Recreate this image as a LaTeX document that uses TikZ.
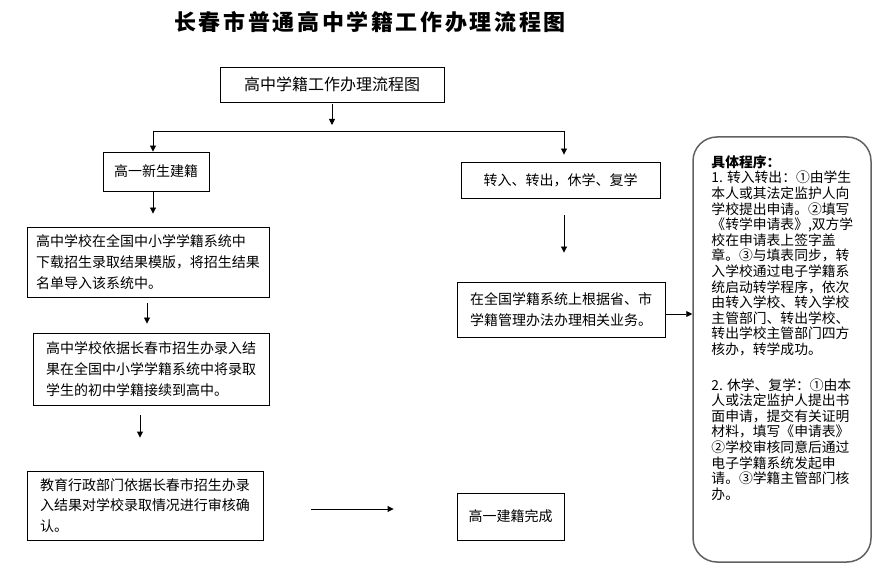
\documentclass[tikz,border=0pt]{standalone}
\usepackage{fontspec}
\setmainfont{Noto Sans CJK SC}
\usepackage{xcolor}
\usetikzlibrary{arrows.meta}

\tikzset{
  stepbox/.style={draw, line width=0.9pt, inner sep=0pt, align=left, font=\fontsize{14}{20.7}\selectfont},
  flowarrow/.style={-{Triangle[length=6pt,width=6pt]}, line width=0.9pt},
  notebox/.style={draw=black!62, line width=1.5pt, rounded corners=24pt, minimum width=178pt, minimum height=425pt},
  notetext/.style={inner sep=0pt, align=left, anchor=north west, font=\fontsize{13.8}{15.6}\selectfont},
}

\begin{document}
\begin{tikzpicture}[x=1pt, y=-1pt]
    \useasboundingbox (0,0) rectangle (884,585);

    \node[font=\fontsize{22}{24}\selectfont\bfseries\addfontfeature{LetterSpace=12}] (title) at (370,22) {长春市普通高中学籍工作办理流程图};

    \node[stepbox, minimum width=224pt, minimum height=35pt, font=\fontsize{16}{18}\selectfont] (top) at (332,84.5) {高中学籍工作办理流程图};
    \node[stepbox, minimum width=106pt, minimum height=39pt] (newreg) at (156,171.5) {高一新生建籍};
    \node[stepbox, minimum width=199pt, minimum height=36pt] (transfer) at (560.5,180) {转入、转出，休学、复学};

    \node[stepbox, minimum width=242pt, minimum height=70pt] (load) at (148,262) {高中学校在全国中小学学籍系统中\\下载招生录取结果模版，将招生结果\\名单导入该系统中。};
    \node[stepbox, minimum width=236pt, minimum height=72pt] (link) at (151,369) {高中学校依据长春市招生办录入结\\果在全国中小学学籍系统中将录取\\学生的初中学籍接续到高中。};
    \node[stepbox, minimum width=236pt, minimum height=69pt] (audit) at (145,505.5) {教育行政部门依据长春市招生办录\\入结果对学校录取情况进行审核确\\认。};
    \node[stepbox, minimum width=107pt, minimum height=47pt] (done) at (510.5,516.5) {高一建籍完成};

    \node[stepbox, minimum width=208pt, minimum height=55pt] (handle) at (561,309.5) {在全国学籍系统上根据省、市\\学籍管理办法办理相关业务。};

    % right side: the steps in detail
    \node[notebox] (steps) at (782,349.5) {};
    \node[notetext] (stepstext) at ([xshift=19pt,yshift=-19pt]steps.north west) {{\bfseries 具体程序：}\\1. 转入转出：①由学生\\本人或其法定监护人向\\学校提出申请。②填写\\《转学申请表》,双方学\\校在申请表上签字盖\\章。③与填表同步，转\\入学校通过电子学籍系\\统启动转学程序，依次\\由转入学校、转入学校\\主管部门、转出学校、\\转出学校主管部门四方\\核办，转学成功。\\[20pt]2. 休学、复学：①由本\\人或法定监护人提出书\\面申请，提交有关证明\\材料，填写《申请表》\\②学校审核同意后通过\\电子学籍系统发起申\\请。③学籍主管部门核\\办。};

    \coordinate (forkL) at (153,131);
    \coordinate (forkR) at (564,131);

    \draw[flowarrow, shorten <=2pt, shorten >=6pt] (top.south) -- (top.south |- forkL);
    \draw[line width=0.9pt] (forkL) -- (forkR);
    \draw[flowarrow] (forkL) -- (forkL |- newreg.north);
    \draw[flowarrow, shorten >=7pt] (forkR) -- (forkR |- transfer.north);

    \draw[flowarrow, shorten >=13pt] (newreg.south -| forkL) -- (forkL |- load.north);
    \draw[flowarrow, shorten <=6pt, shorten >=9pt] ([xshift=-1pt]load.south) -- ([xshift=-1pt]load.south |- link.north);
    \draw[flowarrow, shorten <=10pt, shorten >=33pt] ([xshift=-11pt]link.south) -- ([xshift=-11pt]link.south |- audit.north);
    \draw[flowarrow, shorten <=48pt, shorten >=63pt] ([yshift=-3.5pt]audit.east) -- ([yshift=-3.5pt]audit.east -| done.west);

    \draw[flowarrow, shorten <=17pt, shorten >=29pt] (transfer.south -| forkR) -- (forkR |- handle.north);
    \draw[flowarrow] ([yshift=-4.5pt]handle.east) -- ([yshift=-4.5pt]handle.east -| steps.west);
\end{tikzpicture}
\end{document}
